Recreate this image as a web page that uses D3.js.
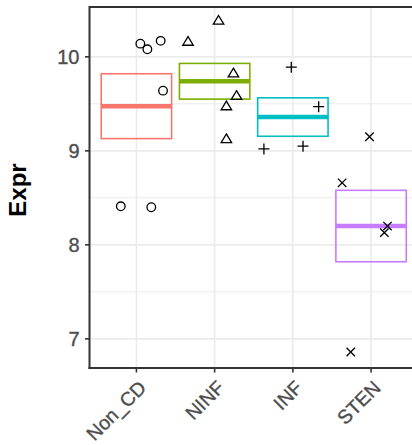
<!DOCTYPE html>
<html><head><meta charset="utf-8">
<script src="https://cdn.jsdelivr.net/npm/d3@7"></script>
<style>body{margin:0;background:#fff;}svg{display:block;font-family:"Liberation Sans",Arial,sans-serif;}</style>
</head><body><svg id="c" width="412" height="445"></svg>
<script>
const categories = ["Non_CD","NINF","INF","STEN"];
const colors = ["#F8766D","#7CAE00","#00BFC4","#C77CFF"];
const shapes = ["circle","triangle","plus","cross"];
// crossbar summary: mean, lower, upper
const boxMean  = [9.475, 9.74, 9.36, 8.20];
const boxLower = [9.13, 9.55, 9.155, 7.82];
const boxUpper = [9.82, 9.93, 9.564, 8.58];
// jittered points: group, horizontal jitter (fraction of a category step), value
const ptGroup  = [0,0,0,0,0,0, 1,1,1,1,1,1, 2,2,2,2, 3,3,3,3,3];
const ptJitter = [0.05,0.14,0.31,0.34,-0.20,0.19, 0.05,-0.34,0.24,0.28,0.15,0.15, -0.02,0.33,-0.37,0.13, -0.02,-0.37,0.21,0.17,-0.26];
const ptValue  = [10.14,10.08,10.17,9.64,8.41,8.40, 10.38,10.156,9.82,9.58,9.47,9.12, 9.89,9.47,9.02,9.05, 9.15,8.66,8.20,8.13,6.86];
const yTicks = [7,8,9,10];
const yMinor = [7.5,8.5,9.5];

const svg = d3.select("#c");
const L=89.5, R=418, T=7, B=368;
const x = d3.scaleBand().domain(categories).range([L,R]).paddingInner(0).paddingOuter(0.1);
const y = d3.scaleLinear().domain([6.69,10.53]).range([B,T]);
const step = x.step();
const cx = c => x(c)+x.bandwidth()/2;

// grid
const g = svg.append("g");
g.selectAll(".mn").data(yMinor).enter().append("line")
 .attr("x1",L).attr("x2",R).attr("y1",d=>y(d)).attr("y2",d=>y(d)).attr("stroke","#EBEBEB").attr("stroke-width",1);
g.selectAll(".mj").data(yTicks).enter().append("line")
 .attr("x1",L).attr("x2",R).attr("y1",d=>y(d)).attr("y2",d=>y(d)).attr("stroke","#EBEBEB").attr("stroke-width",1.6);
g.selectAll(".vx").data(categories).enter().append("line")
 .attr("x1",d=>cx(d)).attr("x2",d=>cx(d)).attr("y1",T).attr("y2",B).attr("stroke","#EBEBEB").attr("stroke-width",1.6);

// crossbars
const bw = step*0.9;
categories.forEach((c,i)=>{
  svg.append("rect").attr("x",cx(c)-bw/2).attr("width",bw)
    .attr("y",y(boxUpper[i])).attr("height",y(boxLower[i])-y(boxUpper[i]))
    .attr("fill","none").attr("stroke",colors[i]).attr("stroke-width",1.6);
  svg.append("line").attr("x1",cx(c)-bw/2).attr("x2",cx(c)+bw/2)
    .attr("y1",y(boxMean[i])).attr("y2",y(boxMean[i]))
    .attr("stroke",colors[i]).attr("stroke-width",4.5);
});

// points
const pg = svg.append("g").attr("fill","none").attr("stroke","#000").attr("stroke-width",1.3);
ptValue.forEach((v,k)=>{
  const gi = ptGroup[k];
  const px = cx(categories[gi]) + ptJitter[k]*step, py = y(v);
  const s = shapes[gi];
  if(s==="circle") pg.append("circle").attr("cx",px).attr("cy",py).attr("r",4.3);
  else if(s==="triangle"){
    const r=5.6;
    pg.append("path").attr("d",`M${px},${py-r} L${px+r*0.866*1.08},${py+r*0.55} L${px-r*0.866*1.08},${py+r*0.55} Z`);
  } else if(s==="plus"){
    const r=5.5;
    pg.append("path").attr("d",`M${px-r},${py}H${px+r}M${px},${py-r}V${py+r}`);
  } else {
    const r=4.2;
    pg.append("path").attr("d",`M${px-r},${py-r}L${px+r},${py+r}M${px-r},${py+r}L${px+r},${py-r}`);
  }
});

// panel border (top), axes
svg.append("line").attr("x1",L).attr("x2",R).attr("y1",T).attr("y2",T).attr("stroke","#333").attr("stroke-width",2);
svg.append("line").attr("x1",L).attr("x2",L).attr("y1",T-1).attr("y2",B+1).attr("stroke","#333").attr("stroke-width",2);
svg.append("line").attr("x1",L-1).attr("x2",R).attr("y1",B).attr("y2",B).attr("stroke","#333").attr("stroke-width",2);

// y axis ticks
const ya = svg.append("g");
yTicks.forEach(t=>{
  ya.append("line").attr("x1",L-4.5).attr("x2",L).attr("y1",y(t)).attr("y2",y(t)).attr("stroke","#333").attr("stroke-width",1.6);
  ya.append("text").attr("x",L-10).attr("y",y(t)).attr("dy","0.36em").attr("text-anchor","end")
    .attr("font-size",20).attr("fill","#4D4D4D").attr("stroke","#4D4D4D").attr("stroke-width",0.35).text(t);
});
// x axis ticks
categories.forEach(c=>{
  svg.append("line").attr("x1",cx(c)).attr("x2",cx(c)).attr("y1",B).attr("y2",B+4.5).attr("stroke","#333").attr("stroke-width",1.6);
  svg.append("text").attr("transform",`translate(${cx(c)+1},${B+11}) rotate(-45)`)
    .attr("text-anchor","end").attr("dy","0.72em").attr("font-size",19.5).attr("fill","#4D4D4D")
    .attr("stroke","#4D4D4D").attr("stroke-width",0.35).text(c);
});
svg.append("text").attr("transform",`translate(26,190) rotate(-90)`).attr("text-anchor","middle")
  .attr("font-size",24).attr("font-weight","bold").attr("fill","#000").text("Expr");
</script></body></html>
